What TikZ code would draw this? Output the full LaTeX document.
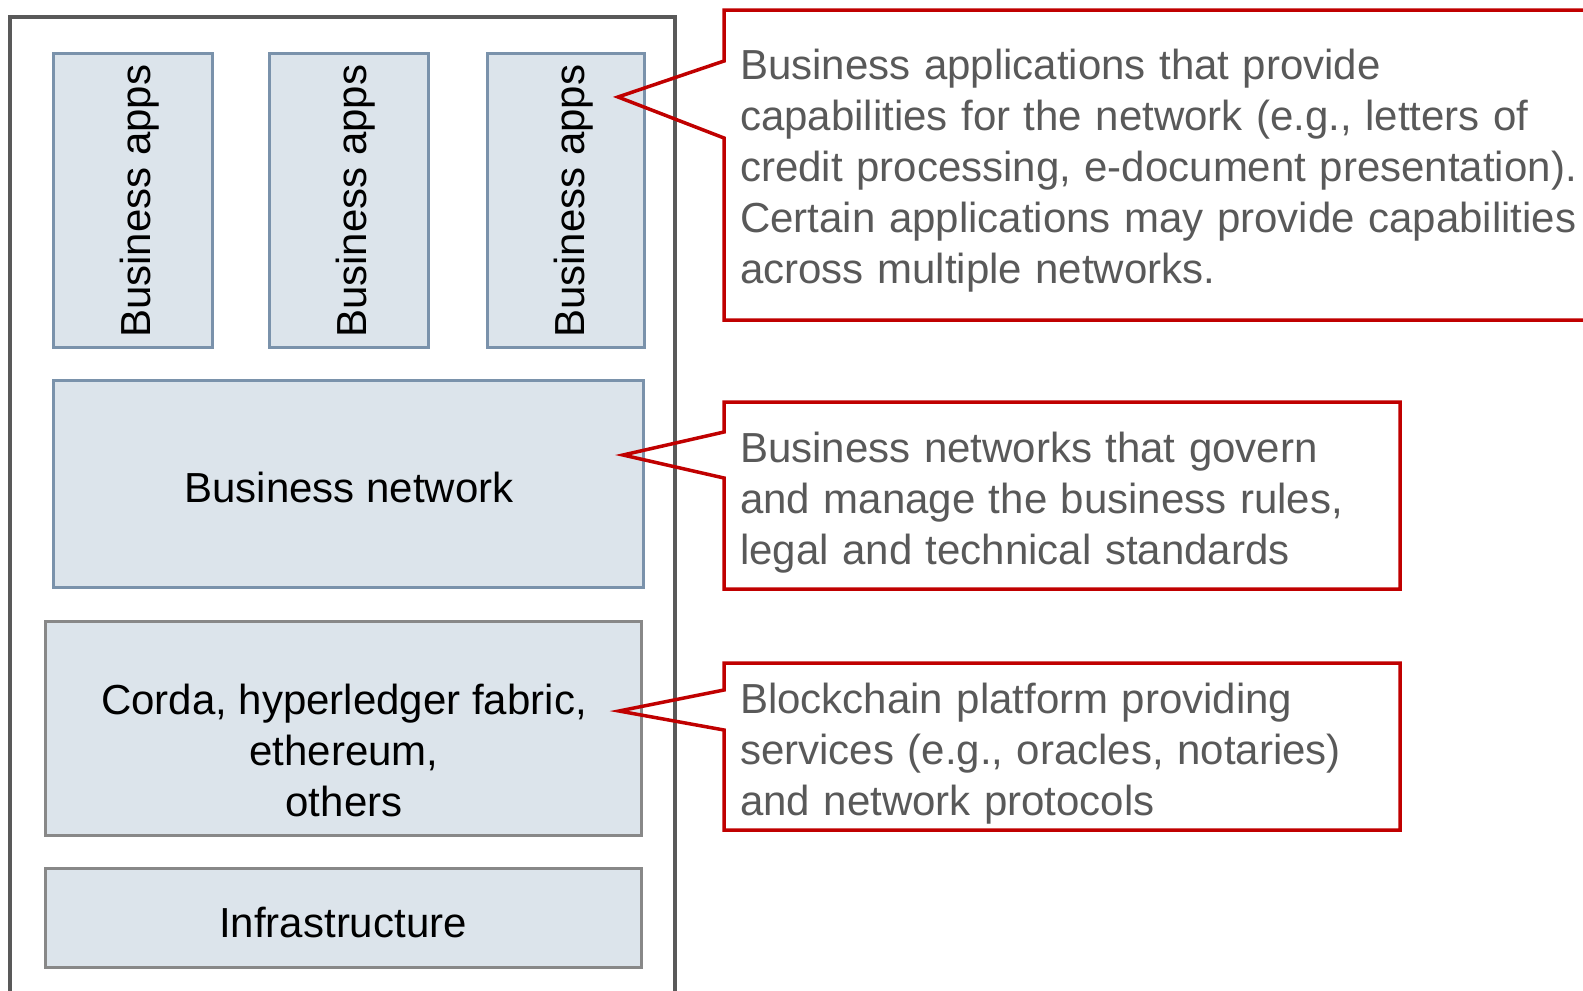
\documentclass[tikz,border=0pt]{standalone}
\usepackage{fontspec}
\setmainfont{Liberation Sans}
\definecolor{boxfill}{HTML}{DCE4EB}
\definecolor{boxblue}{HTML}{7A92AB}
\definecolor{boxgray}{HTML}{888888}
\definecolor{framegray}{HTML}{595959}
\definecolor{calloutred}{HTML}{C00000}
\definecolor{callouttext}{HTML}{595959}
\newcommand{\mycallfont}{\fontsize{42}{51}\selectfont\spaceskip=13.5pt\relax}
\tikzset{
  layerbox/.style={draw=boxblue, fill=boxfill, line width=3pt, inner sep=0pt, outer sep=0pt},
  graybox/.style={draw=boxgray, fill=boxfill, line width=3pt, inner sep=0pt, outer sep=0pt},
  frame/.style={draw=framegray, line width=4pt},
  callout/.style={draw=calloutred, line width=3.5pt, line join=miter},
  boxtext/.style={font=\fontsize{42}{51}\selectfont, text=black, inner sep=0pt, align=center},
  calltext/.style={font=\mycallfont, text=callouttext, inner sep=0pt, align=left, anchor=north west},
}
\begin{document}
\begin{tikzpicture}[x=1pt,y=-1pt]
\useasboundingbox (0,0) rectangle (1583,991);
\clip (0,0) rectangle (1583,991);
\fill[white] (0,0) rectangle (1583,991);

% outer frame
\draw[frame] (10,1010) -- (10,17) -- (675,17) -- (675,1010);

% business apps
\node[layerbox, minimum width=158.5pt, minimum height=293.5pt] (app1) at (132.75,200.25) {};
\node[layerbox, minimum width=158.5pt, minimum height=293.5pt] (app2) at (348.75,200.25) {};
\node[layerbox, minimum width=156.5pt, minimum height=293.5pt] (app3) at (565.75,200.25) {};
\node[boxtext, rotate=90, anchor=base west] (app1t) at (150.5,338) {Business apps};
\node[boxtext, rotate=90, anchor=base west] (app2t) at (366.5,338) {Business apps};
\node[boxtext, rotate=90, anchor=base west] (app3t) at (584.5,338) {Business apps};

% business network
\node[layerbox, minimum width=590pt, minimum height=207pt] (net) at (348.75,484) {};
\node[boxtext, anchor=base] (nett) at (349,502) {Business network};

% platform
\node[graybox, minimum width=596pt, minimum height=214pt] (plat) at (343.5,728) {};
\node[boxtext, anchor=north] (platt) at (344,684) {Corda, hyperledger fabric,\\ ethereum,\\ others};

% infrastructure
\node[graybox, minimum width=596pt, minimum height=99pt] (infra) at (343.5,917.5) {};
\node[boxtext, anchor=base] (infrat) at (343,937) {Infrastructure};

% callouts
\coordinate (tip1) at (618,97);
\coordinate (tip2) at (623,455);
\coordinate (tip3) at (619,711);
\draw[callout] (724,10) -- (1600,10) -- (1600,320) -- (724,320) -- (724,138) -- (tip1) -- (724,61) -- cycle;
\draw[callout] (724,402) -- (1400,402) -- (1400,589) -- (724,589) -- (724,478) -- (tip2) -- (724,432) -- cycle;
\draw[callout] (724,663) -- (1400,663) -- (1400,830) -- (724,830) -- (724,730) -- (tip3) -- (724,690) -- cycle;

\node[calltext] (c1) at (740,49) {Business applications that provide\\capabilities for the network (e.g., letters of\\credit processing, e-document presentation).\\Certain applications may provide capabilities\\across multiple networks.};
\node[calltext] (c2) at (740,432) {Business networks that govern\\and manage the business rules,\\legal and technical standards};
\node[calltext] (c3) at (740,683) {Blockchain platform providing\\services (e.g., oracles, notaries)\\and network protocols};
\end{tikzpicture}
\end{document}
